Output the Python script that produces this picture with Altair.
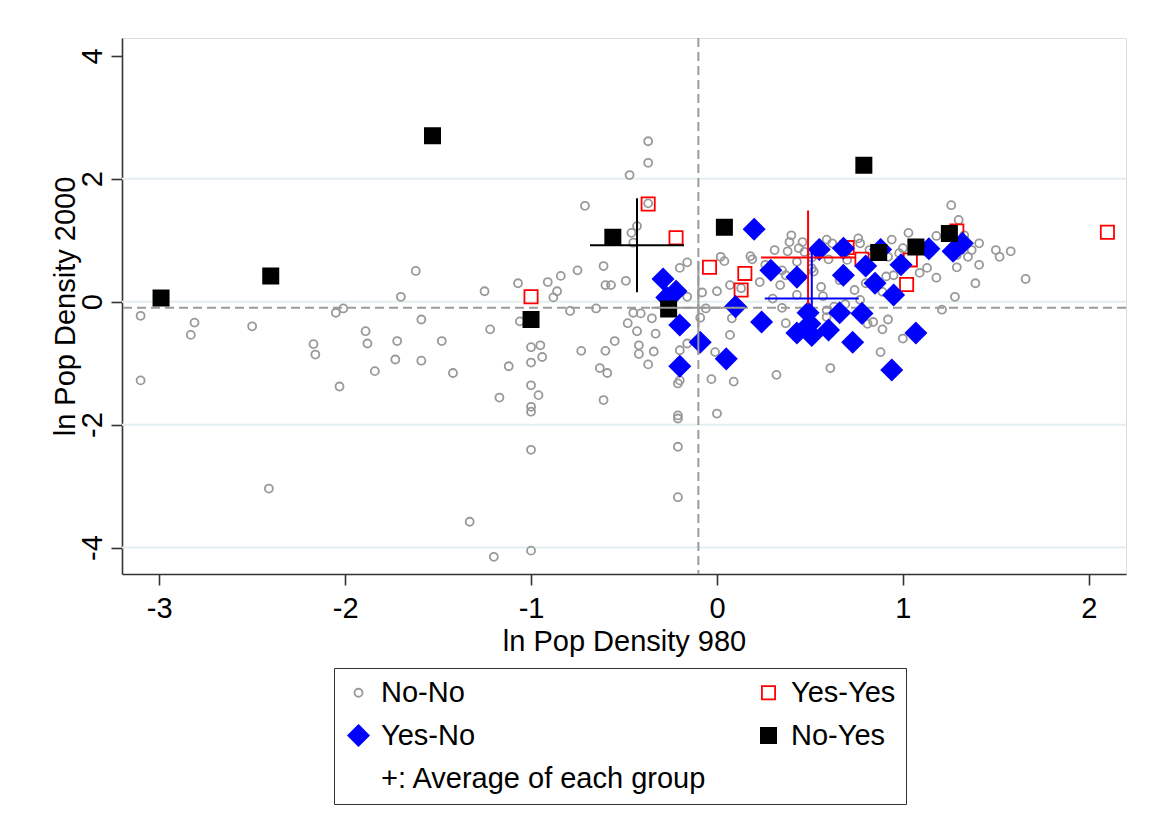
import altair as alt
import pandas as pd

# ---------------- data ----------------
groups = ["No-No", "Yes-Yes", "Yes-No", "No-Yes"]
note_label = "+: Average of each group"

nono_x = [-3.10, -3.10, -2.81, -2.83, -2.50, -2.41, -2.17, -2.16, -2.05, -2.01, -2.03, -1.89, -1.88, -1.84,
          -1.70, -1.72, -1.73, -1.59, -1.59, -1.48, -1.42, -1.33, -1.25, -1.22, -1.20, -1.17, -1.62,
          -1.12, -1.07, -1.06, -1.00, -0.95, -0.94, -1.00, -1.00, -0.96, -1.00, -1.00, -1.00, -1.00,
          -0.91, -0.86, -0.88, -0.84, -0.79, -0.75, -0.73, -0.71,
          -0.65, -0.63, -0.61, -0.61, -0.60, -0.57, -0.60, -0.59, -0.55, -0.49, -0.48, -0.47, -0.45,
          -0.41, -0.43, -0.42, -0.42, -0.37, -0.35, -0.34, -0.33, -0.37, -0.37, -0.37, -0.43, -0.46, -0.45,
          -0.20, -0.16, -0.16, -0.16, -0.20, -0.20, -0.21, -0.21, -0.21, -0.21, -0.21,
          -0.08, -0.09, -0.06, 0.00, 0.07, 0.02, 0.04, -0.01, 0.07, 0.08, -0.03, 0.09, 0.00,
          0.18, 0.19, 0.13, 0.23, 0.30, 0.34, 0.35, 0.37, 0.43, 0.32, 0.40, 0.39, 0.38, 0.35, 0.37, 0.46, 0.47,
          0.51, 0.52, 0.59, 0.60, 0.57, 0.59, 0.63, 0.69, 0.61, 0.76, 0.77, 0.80, 0.81, 0.84, 0.89, 0.92,
          0.88, 0.94, 0.91,
          1.00, 1.03, 1.00, 1.09, 1.13, 1.18, 1.21, 1.26, 1.30, 1.33, 1.18, 1.41, 1.37, 1.50, 1.52, 1.58,
          1.35, 1.41, 1.29, 1.39, 1.66, 1.28,
          0.44, 0.51, 0.62, 0.70, 0.98, 0.92, 0.89, 0.56, 0.59, 0.66, 0.74, 0.82, 1.06, 0.31, 0.26, 0.43,
          0.77, 0.95, 1.29]
nono_y = [-0.23, -1.28, -0.34, -0.54, -0.40, -3.04, -0.69, -0.86, -0.18, -0.11, -1.38, -0.48, -0.68, -1.13,
          0.08, -0.64, -0.94, -0.29, -0.96, -0.64, -1.16, -3.58, 0.17, -0.45, -4.15, -1.56, 0.50,
          -1.05, 0.30, -0.32, -0.74, -0.71, -0.90, -0.99, -1.36, -1.52, -1.71, -1.79, -2.41, -4.05,
          0.32, 0.17, 0.07, 0.42, -0.15, 0.51, -0.80, 1.56,
          -0.11, -1.08, -1.60, 0.58, 0.27, 0.27, -0.80, -1.16, -0.64, 0.34, -0.35, 2.06, -0.18,
          -0.19, -0.48, -0.71, -0.85, -1.02, -0.27, -0.81, -0.52, 2.61, 2.26, 1.60, 1.23, 1.12, 0.96,
          0.55, 0.64, 0.08, -0.68, -0.79, -1.28, -1.33, -1.85, -1.90, -2.36, -3.18,
          0.15, -0.26, -0.11, 0.17, 0.27, 0.73, 0.66, -0.82, -0.54, -0.27, -1.26, -1.30, -1.82,
          0.74, 0.69, 0.22, 0.32, 0.05, 0.27, -0.10, -0.35, 0.11, -1.19, 1.08, 0.97, 0.82, 0.51, 0.43, 0.97, 0.81,
          0.54, 0.49, 1.01, 0.69, 0.09, -0.14, -0.08, -0.04, -1.08, 1.03, 0.95, 0.30, -0.36, -0.33, -0.45, -0.29,
          -0.82, 1.01, 0.41,
          -0.60, 1.12, 0.87, 0.47, 0.55, 0.39, -0.13, 1.57, 1.33, 1.08, 1.07, 0.95, 0.84, 0.84, 0.73, 0.82,
          0.73, 0.60, 0.56, 0.30, 0.37, 0.08,
          0.87, 0.72, 0.95, 0.68, 0.79, 0.73, 0.16, 0.24, -0.25, 0.35, 0.19, 0.84, 0.92, 0.84, 0.60, 0.65,
          0.03, 0.43, 0.76]

yesyes_x = [-1.00, -0.37, -0.22, -0.04, 0.15, 0.13, 0.70, 0.78, 1.02, 1.04, 1.29, 2.10]
yesyes_y = [0.08, 1.59, 1.04, 0.56, 0.46, 0.19, 0.88, 0.69, 0.28, 0.68, 1.15, 1.13]

yesno_x = [-0.29, -0.22, -0.27, -0.20, -0.09, 0.05, -0.20, 0.10, 0.24, 0.20, 0.29, 0.43, 0.55, 0.68,
           0.68, 0.80, 0.85, 0.88, 0.95, 0.99, 1.14, 1.27, 1.32, 0.49, 0.50, 0.43, 0.51, 0.60, 0.66,
           0.78, 0.73, 1.07, 0.94]
yesno_y = [0.37, 0.17, 0.07, -0.38, -0.66, -0.93, -1.05, -0.08, -0.33, 1.18, 0.51, 0.40, 0.85, 0.87,
           0.43, 0.58, 0.30, 0.85, 0.11, 0.60, 0.86, 0.82, 0.95, -0.18, -0.36, -0.51, -0.55, -0.46, -0.18,
           -0.19, -0.66, -0.51, -1.11]

noyes_x = [-2.99, -2.40, -1.53, -1.00, -0.56, -0.26, 0.04, 0.79, 0.87, 1.07, 1.25]
noyes_y = [0.06, 0.42, 2.70, -0.29, 1.05, -0.12, 1.21, 2.22, 0.80, 0.89, 1.11]

# group averages (the "+" markers), order as in `groups`
avg_x = [-0.10, 0.49, 0.51, -0.43]
avg_y = [-0.10, 0.72, 0.05, 0.92]

ref_x = -0.10
ref_y = -0.10
y_grid = [2, 0, -2, -4]
x_ticks = [-3, -2, -1, 0, 1, 2]
y_ticks = [-4, -2, 0, 2, 4]

# ---------------- styles ----------------
FONT = "Liberation Sans"
FS = 29
colors = {"No-No": "#999999", "Yes-Yes": "#ff0000", "Yes-No": "#0000ff", "No-Yes": "#000000"}

rows = []
for g, xs, ys in [("No-No", nono_x, nono_y), ("Yes-Yes", yesyes_x, yesyes_y),
                  ("Yes-No", yesno_x, yesno_y), ("No-Yes", noyes_x, noyes_y)]:
    rows += [{"x": a, "y": b, "group": g} for a, b in zip(xs, ys)]
pts = pd.DataFrame(rows)

DIAMOND = "M0,-1L1,0L0,1L-1,0Z"
SQUARE = "M-1,-1H1V1H-1Z"
# legend is laid out column by column: col 1 = No-No, Yes-No, note ; col 2 = Yes-Yes, No-Yes
domain = ["No-No", "Yes-No", note_label, "Yes-Yes", "No-Yes"]
shape_range = ["circle", DIAMOND, "circle", SQUARE, SQUARE]
stroke_range = ["#999999", "#0000ff", "transparent", "#ff0000", "#000000"]
fill_range = ["transparent", "#0000ff", "transparent", "transparent", "#000000"]
size_range = [64, 420, 0, 174, 231]

xscale = alt.Scale(domain=[-3.2, 2.2], nice=False, zero=False)
yscale = alt.Scale(domain=[-4.43, 4.29], nice=False, zero=False)

xaxis = alt.Axis(values=x_ticks, title="ln Pop Density 980", grid=False, tickSize=11,
                 labelPadding=9, labelFontSize=FS, titleFontSize=FS, titleFontWeight="normal",
                 labelFont=FONT, titleFont=FONT, labelColor="black", titleColor="black",
                 domainColor="#333333", tickColor="#333333", domainWidth=1.6, tickWidth=1.6,
                 labelExpr="'' + datum.value", labelFlush=False, labelOverlap=False,
                 titleY=76, titleBaseline="alphabetic")
yaxis = alt.Axis(values=y_ticks, title="ln Pop Density 2000", grid=False, tickSize=11,
                 labelPadding=10, labelFontSize=FS, titleFontSize=FS, titleFontWeight="normal",
                 labelFont=FONT, titleFont=FONT, labelColor="black", titleColor="black",
                 domainColor="#333333", tickColor="#333333", domainWidth=1.6, tickWidth=1.6,
                 labelExpr="'' + datum.value", labelFlush=False, labelOverlap=False,
                 labelAngle=270, labelAlign="center", labelBaseline="alphabetic",
                 titleAngle=270, titleAlign="center", titleBaseline="alphabetic",
                 titleX=-48, titleY=268)

X = lambda: alt.X("x:Q", scale=xscale, axis=xaxis)
Y = lambda: alt.Y("y:Q", scale=yscale, axis=yaxis)

legend = alt.Legend(title=None, orient="none", legendX=212, legendY=630, columns=2,
                    columnPadding=47, rowPadding=13, padding=10, strokeColor="#333333",
                    fillColor="white", labelFontSize=FS, labelFont=FONT, labelColor="black",
                    labelLimit=600, labelOffset=8, symbolStrokeWidth=1.8)

grid = alt.Chart(pd.DataFrame({"y": y_grid})).mark_rule(color="#e4eef1", strokeWidth=2).encode(y=Y())

hline = alt.Chart(pd.DataFrame({"y": [ref_y]})).mark_rule(
    color="#9c9c9c", strokeWidth=2, strokeDash=[9, 5]).encode(y=Y())
vline = alt.Chart(pd.DataFrame({"x": [ref_x]})).mark_rule(
    color="#9c9c9c", strokeWidth=2, strokeDash=[9, 5]).encode(x=X())

points = alt.Chart(pts).mark_point(opacity=1, strokeWidth=1.8).encode(
    x=X(), y=Y(),
    shape=alt.Shape("group:N", scale=alt.Scale(domain=domain, range=shape_range), legend=legend),
    stroke=alt.Stroke("group:N", scale=alt.Scale(domain=domain, range=stroke_range), legend=legend),
    fill=alt.Fill("group:N", scale=alt.Scale(domain=domain, range=fill_range), legend=legend),
    size=alt.Size("group:N", scale=alt.Scale(type="ordinal", domain=domain, range=size_range),
                  legend=legend),
)

cross_layers = []
for g, ax, ay in zip(groups, avg_x, avg_y):
    cross_layers.append(
        alt.Chart(pd.DataFrame({"x": [ax], "y": [ay]})).mark_point(
            shape="M-1,0H1M0,-1V1", size=8836, filled=False, opacity=1,
            stroke=colors[g], strokeWidth=2).encode(x=X(), y=Y())
    )

chart = alt.layer(grid, hline, vline, points, *cross_layers).properties(
    width=1004, height=536,
    padding={"left": 114, "top": 30, "right": 16, "bottom": 250},
    autosize=alt.AutoSizeParams(type="none"),
).configure_view(stroke=None).configure(font=FONT, background="white")

chart.save("out.html", embed_options={"renderer": "svg", "actions": False})
